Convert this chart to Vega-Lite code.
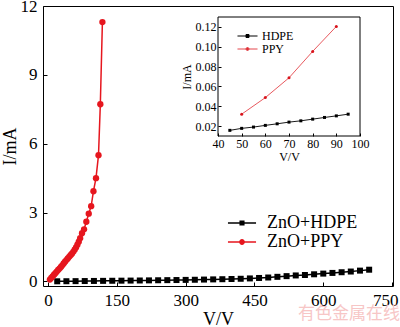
{
  "$schema": "https://vega.github.io/schema/vega-lite/v6.json",
  "autosize": "none",
  "width": 350,
  "height": 280,
  "padding": {"left": 43, "top": 6, "right": 7, "bottom": 41},
  "background": "white",
  "title": {"text": "有色金属在线", "orient": "bottom", "anchor": "end", "font": "Noto Sans CJK SC", "fontSize": 17, "fontWeight": "normal", "color": "#f7c6c6", "offset": -22, "dx": 2},
  "config": {
    "font": "Liberation Serif",
    "view": {"stroke": "black", "strokeWidth": 1},
    "axis": {"minExtent": 0, "grid": false, "labelColor": "black", "titleColor": "black", "tickColor": "black", "titleFontWeight": "normal", "labelFont": "Liberation Serif", "titleFont": "Liberation Serif"},
    "legend": {"labelFont": "Liberation Serif", "labelColor": "black", "padding": 0}
  },
  "datasets": {
    "main": [
      {"series": "ZnO+HDPE", "V": 20, "I": 0.005}, {"series": "ZnO+HDPE", "V": 40, "I": 0.008},
      {"series": "ZnO+HDPE", "V": 60, "I": 0.012}, {"series": "ZnO+HDPE", "V": 80, "I": 0.016},
      {"series": "ZnO+HDPE", "V": 100, "I": 0.02}, {"series": "ZnO+HDPE", "V": 120, "I": 0.024},
      {"series": "ZnO+HDPE", "V": 140, "I": 0.028}, {"series": "ZnO+HDPE", "V": 160, "I": 0.032},
      {"series": "ZnO+HDPE", "V": 180, "I": 0.036}, {"series": "ZnO+HDPE", "V": 200, "I": 0.04},
      {"series": "ZnO+HDPE", "V": 220, "I": 0.045}, {"series": "ZnO+HDPE", "V": 240, "I": 0.05},
      {"series": "ZnO+HDPE", "V": 260, "I": 0.055}, {"series": "ZnO+HDPE", "V": 280, "I": 0.06},
      {"series": "ZnO+HDPE", "V": 300, "I": 0.066}, {"series": "ZnO+HDPE", "V": 320, "I": 0.072},
      {"series": "ZnO+HDPE", "V": 340, "I": 0.08}, {"series": "ZnO+HDPE", "V": 360, "I": 0.088},
      {"series": "ZnO+HDPE", "V": 380, "I": 0.096}, {"series": "ZnO+HDPE", "V": 400, "I": 0.105},
      {"series": "ZnO+HDPE", "V": 420, "I": 0.115}, {"series": "ZnO+HDPE", "V": 440, "I": 0.13},
      {"series": "ZnO+HDPE", "V": 460, "I": 0.15}, {"series": "ZnO+HDPE", "V": 480, "I": 0.17},
      {"series": "ZnO+HDPE", "V": 500, "I": 0.2}, {"series": "ZnO+HDPE", "V": 520, "I": 0.23},
      {"series": "ZnO+HDPE", "V": 540, "I": 0.26}, {"series": "ZnO+HDPE", "V": 560, "I": 0.28},
      {"series": "ZnO+HDPE", "V": 580, "I": 0.31}, {"series": "ZnO+HDPE", "V": 600, "I": 0.34},
      {"series": "ZnO+HDPE", "V": 620, "I": 0.37}, {"series": "ZnO+HDPE", "V": 640, "I": 0.4},
      {"series": "ZnO+HDPE", "V": 660, "I": 0.43}, {"series": "ZnO+HDPE", "V": 680, "I": 0.47},
      {"series": "ZnO+HDPE", "V": 700, "I": 0.51},
      {"series": "ZnO+PPY", "V": 4, "I": 0.08}, {"series": "ZnO+PPY", "V": 7, "I": 0.15},
      {"series": "ZnO+PPY", "V": 10, "I": 0.22}, {"series": "ZnO+PPY", "V": 13, "I": 0.29},
      {"series": "ZnO+PPY", "V": 16, "I": 0.36}, {"series": "ZnO+PPY", "V": 19, "I": 0.43},
      {"series": "ZnO+PPY", "V": 22, "I": 0.5}, {"series": "ZnO+PPY", "V": 25, "I": 0.56},
      {"series": "ZnO+PPY", "V": 28, "I": 0.63}, {"series": "ZnO+PPY", "V": 31, "I": 0.7},
      {"series": "ZnO+PPY", "V": 34, "I": 0.78}, {"series": "ZnO+PPY", "V": 37, "I": 0.86},
      {"series": "ZnO+PPY", "V": 40, "I": 0.93}, {"series": "ZnO+PPY", "V": 43, "I": 1.0},
      {"series": "ZnO+PPY", "V": 46, "I": 1.07}, {"series": "ZnO+PPY", "V": 49, "I": 1.14},
      {"series": "ZnO+PPY", "V": 52, "I": 1.21}, {"series": "ZnO+PPY", "V": 55, "I": 1.29},
      {"series": "ZnO+PPY", "V": 58, "I": 1.38}, {"series": "ZnO+PPY", "V": 61, "I": 1.48},
      {"series": "ZnO+PPY", "V": 64, "I": 1.6}, {"series": "ZnO+PPY", "V": 67, "I": 1.73},
      {"series": "ZnO+PPY", "V": 70, "I": 1.88}, {"series": "ZnO+PPY", "V": 74, "I": 2.1},
      {"series": "ZnO+PPY", "V": 78.5, "I": 2.27}, {"series": "ZnO+PPY", "V": 83.5, "I": 2.6},
      {"series": "ZnO+PPY", "V": 88.7, "I": 2.95}, {"series": "ZnO+PPY", "V": 94, "I": 3.28},
      {"series": "ZnO+PPY", "V": 99, "I": 3.93}, {"series": "ZnO+PPY", "V": 104.5, "I": 4.5},
      {"series": "ZnO+PPY", "V": 110, "I": 5.5}, {"series": "ZnO+PPY", "V": 114, "I": 7.72},
      {"series": "ZnO+PPY", "V": 118.5, "I": 11.3}
    ],
    "inset": [
      {"series": "HDPE", "V": 45, "I": 0.0157}, {"series": "HDPE", "V": 50, "I": 0.0177},
      {"series": "HDPE", "V": 55, "I": 0.019}, {"series": "HDPE", "V": 60, "I": 0.0207},
      {"series": "HDPE", "V": 65, "I": 0.0223}, {"series": "HDPE", "V": 70, "I": 0.024},
      {"series": "HDPE", "V": 75, "I": 0.0253}, {"series": "HDPE", "V": 80, "I": 0.027},
      {"series": "HDPE", "V": 85, "I": 0.0287}, {"series": "HDPE", "V": 90, "I": 0.0303},
      {"series": "HDPE", "V": 95, "I": 0.032},
      {"series": "PPY", "V": 50, "I": 0.032}, {"series": "PPY", "V": 60, "I": 0.0487},
      {"series": "PPY", "V": 70, "I": 0.0687}, {"series": "PPY", "V": 80, "I": 0.0953},
      {"series": "PPY", "V": 90, "I": 0.1205}
    ],
    "box": [{"x0": 40, "x1": 100, "y0": 0.01, "y1": 0.13}]
  },
  "layer": [
    {
      "data": {"name": "main"},
      "layer": [
        {
          "mark": {"type": "line", "strokeWidth": 1.5},
          "encoding": {
            "x": {"field": "V", "type": "quantitative", "title": "V/V",
              "scale": {"domain": [-11, 752], "nice": false, "zero": false},
              "axis": {"values": [0, 150, 300, 450, 600, 750], "domain": false, "tickSize": -4, "labelFontSize": 17, "labelPadding": 10, "titleFontSize": 18, "titlePadding": 2, "labelFlush": false,
                "labelAlign": {"expr": "datum.value == 750 ? 'right' : 'center'"},
                "labelOffset": {"expr": "datum.value == 750 ? 6 : 0"}}},
            "y": {"field": "I", "type": "quantitative", "title": "I/mA",
              "scale": {"domain": [-0.2, 12], "nice": false, "zero": false},
              "axis": {"values": [0, 3, 6, 9, 12], "domain": false, "tickSize": -4, "labelFontSize": 17, "labelPadding": 10, "titleFontSize": 18, "titlePadding": 1, "labelFlush": false}},
            "color": {"field": "series", "type": "nominal",
              "scale": {"domain": ["ZnO+HDPE", "ZnO+PPY"], "range": ["black", "#e6161e"]},
              "legend": {"title": null, "orient": "none", "legendX": 189, "legendY": 207,
                "symbolSize": 324, "symbolStrokeWidth": 1.5, "labelFontSize": 18, "labelOffset": 15, "rowPadding": 0,
                "encode": {"symbols": {"update": {
                  "shape": {"signal": "datum.value == 'ZnO+HDPE' ? 'M-1.56,0H1.56M-0.2,-0.2H0.2V0.2H-0.2Z' : 'M-1.56,0H1.56M-0.24,0A0.24,0.24 0 1,0 0.24,0A0.24,0.24 0 1,0 -0.24,0Z'"},
                  "fill": {"signal": "datum.value == 'ZnO+HDPE' ? 'black' : '#e6161e'"}
                }}}}}
          }
        },
        {
          "transform": [{"filter": "datum.series == 'ZnO+HDPE'"}],
          "mark": {"type": "point", "shape": "square", "filled": true, "size": 36, "color": "black", "opacity": 1},
          "encoding": {
            "x": {"field": "V", "type": "quantitative", "title": "V/V"},
            "y": {"field": "I", "type": "quantitative", "title": "I/mA"}
          }
        },
        {
          "transform": [{"filter": "datum.series == 'ZnO+PPY'"}],
          "mark": {"type": "point", "shape": "circle", "filled": true, "size": 40, "color": "#e6161e", "opacity": 1},
          "encoding": {
            "x": {"field": "V", "type": "quantitative", "title": "V/V"},
            "y": {"field": "I", "type": "quantitative", "title": "I/mA"}
          }
        }
      ]
    },
    {
      "layer": [
        {
          "data": {"name": "box"},
          "mark": {"type": "rect", "fill": "white", "stroke": "black", "strokeWidth": 1},
          "encoding": {
            "x": {"field": "x0", "type": "quantitative", "title": "V/V",
              "scale": {"domain": [40, 100], "range": [175, 317], "nice": false, "zero": false},
              "axis": {"orient": "bottom", "offset": -150, "values": [40, 50, 60, 70, 80, 90, 100], "domain": false, "tickSize": -3, "labelFontSize": 12, "labelPadding": 5, "titleFontSize": 12, "titlePadding": 2, "labelFlush": false, "zindex": 1}},
            "x2": {"field": "x1"},
            "y": {"field": "y0", "type": "quantitative", "title": "I/mA",
              "scale": {"domain": [0.01, 0.13], "range": [130, 11], "nice": false, "zero": false},
              "axis": {"orient": "left", "offset": -175, "values": [0.02, 0.04, 0.06, 0.08, 0.1, 0.12], "format": ".2f", "domain": false, "tickSize": -3, "labelFontSize": 12, "labelPadding": 5, "titleFontSize": 12, "titlePadding": 2, "labelFlush": false, "zindex": 1}},
            "y2": {"field": "y1"}
          }
        },
        {
          "data": {"name": "inset"},
          "mark": {"type": "line", "strokeWidth": 0.9},
          "encoding": {
            "x": {"field": "V", "type": "quantitative", "title": "V/V"},
            "y": {"field": "I", "type": "quantitative", "title": "I/mA"},
            "color": {"field": "series", "type": "nominal",
              "scale": {"domain": ["HDPE", "PPY"], "range": ["black", "#e4464c"]},
              "legend": {"title": null, "orient": "none", "legendX": 198, "legendY": 23.5,
                "symbolSize": 144, "symbolStrokeWidth": 1, "labelFontSize": 12, "labelOffset": 8, "rowPadding": 0,
                "encode": {"symbols": {"update": {
                  "shape": {"signal": "datum.value == 'HDPE' ? 'M-1.67,0H1.67M-0.25,-0.25H0.25V0.25H-0.25Z' : 'M-1.67,0H1.67M-0.25,0A0.25,0.25 0 1,0 0.25,0A0.25,0.25 0 1,0 -0.25,0Z'"},
                  "fill": {"signal": "datum.value == 'HDPE' ? 'black' : '#d8141c'"}
                }}}}}
          }
        },
        {
          "data": {"name": "inset"},
          "transform": [{"filter": "datum.series == 'HDPE'"}],
          "mark": {"type": "point", "shape": "square", "filled": true, "size": 9, "color": "black", "opacity": 1},
          "encoding": {
            "x": {"field": "V", "type": "quantitative", "title": "V/V"},
            "y": {"field": "I", "type": "quantitative", "title": "I/mA"}
          }
        },
        {
          "data": {"name": "inset"},
          "transform": [{"filter": "datum.series == 'PPY'"}],
          "mark": {"type": "point", "shape": "circle", "filled": true, "size": 9, "color": "#d8141c", "opacity": 1},
          "encoding": {
            "x": {"field": "V", "type": "quantitative", "title": "V/V"},
            "y": {"field": "I", "type": "quantitative", "title": "I/mA"}
          }
        }
      ]
    }
  ],
  "resolve": {
    "scale": {"x": "independent", "y": "independent", "color": "independent"},
    "axis": {"x": "independent", "y": "independent"},
    "legend": {"color": "independent"}
  }
}
